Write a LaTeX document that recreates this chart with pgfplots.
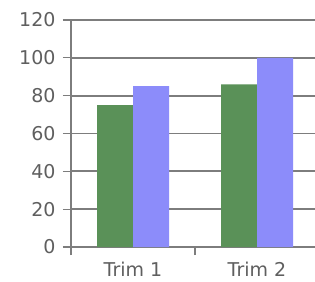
\documentclass[border=0pt]{standalone}
\usepackage{fontspec}
\setmainfont{DejaVu Sans}
\usepackage{pgfplots}
\pgfplotsset{compat=1.18}
\definecolor{bargreen}{RGB}{90,145,88}
\definecolor{barblue}{RGB}{140,140,250}
\definecolor{gridgray}{RGB}{125,125,125}
\definecolor{labelgray}{RGB}{95,95,95}
\begin{document}
\begin{tikzpicture}
\path[use as bounding box, fill=white] (0,0) rectangle (315pt,281pt);
\begin{axis}[
  at={(71pt,34pt)}, anchor=south west,
  width=248pt, height=227pt, scale only axis,
  xmin=-0.5, xmax=1.5, ymin=0, ymax=120,
  enlargelimits=false,
  ytick={0,20,...,120},
  xtick={-0.5,0.5,1.5},
  x tick label as interval,
  xticklabels={Trim 1, Trim 2},
  axis lines*=left,
  ymajorgrids,
  grid style={gridgray, line width=1.8pt},
  axis line style={gridgray, line width=1.8pt},
  tick align=outside,
  major tick length=8pt,
  tick style={gridgray, line width=1.2pt},
  ybar=0pt, bar width=36pt,
  tick label style={font=\fontsize{19}{19}\selectfont, text=labelgray},
  yticklabel style={xshift=-4pt},
  xticklabel style={yshift=-4pt},
  /pgf/number format/assume math mode=true,
]
\addplot[fill=bargreen, draw=none] coordinates {(0,75) (1,86)};
\addplot[fill=barblue, draw=none] coordinates {(0,85) (1,100)};
\end{axis}
\end{tikzpicture}
\end{document}
